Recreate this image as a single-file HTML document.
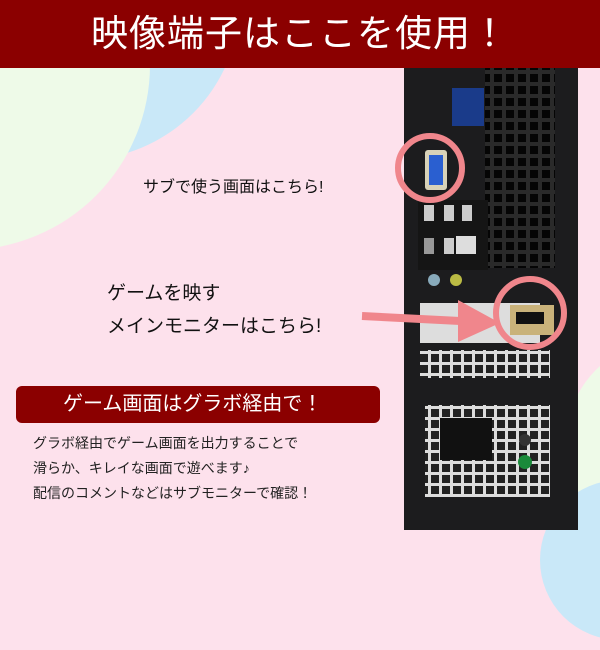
<!DOCTYPE html>
<html><head><meta charset="utf-8"><style>
*{margin:0;padding:0}
body{width:600px;height:542px;overflow:hidden;position:relative;background:#fde1ec;font-family:"Liberation Sans","Noto Sans CJK JP",sans-serif}
.a{position:absolute}
</style></head><body>
<div class="a" style="left:-80px;top:-160px;width:320px;height:320px;border-radius:50%;background:#c9e8f8"></div>
<div class="a" style="left:-220px;top:-120px;width:370px;height:370px;border-radius:50%;background:#eefae8"></div>
<div class="a" style="left:560px;top:350px;width:200px;height:300px;border-radius:40%;background:#eefae8"></div>
<div class="a" style="left:540px;top:480px;width:160px;height:160px;border-radius:50%;background:#c9e8f8"></div>
<svg class="a" style="left:0;top:0" width="600" height="542">
<defs><pattern id="g" width="12" height="12" patternUnits="userSpaceOnUse"><rect width="12" height="12" fill="#2a2a2a"/><rect x="2" y="2" width="8" height="8" fill="#050505"/></pattern>
<pattern id="w" width="11" height="11" patternUnits="userSpaceOnUse"><rect width="11" height="11" fill="#ddd"/><rect x="2" y="2" width="8" height="8" fill="#222"/></pattern></defs>
<rect x="404" y="68" width="174" height="462" fill="#1c1c1e"/>
<rect x="485" y="68" width="70" height="200" fill="url(#g)"/>
<rect x="452" y="88" width="32" height="38" fill="#1a3b8a"/>
<rect x="418" y="200" width="70" height="70" fill="#151515"/>
<rect x="424" y="205" width="10" height="16" fill="#ccc"/><rect x="444" y="205" width="10" height="16" fill="#ccc"/><rect x="462" y="205" width="10" height="16" fill="#ccc"/>
<rect x="424" y="238" width="10" height="16" fill="#999"/><rect x="444" y="238" width="10" height="16" fill="#ccc"/><rect x="456" y="236" width="20" height="18" fill="#ddd"/>
<circle cx="434" cy="280" r="6" fill="#8ab"/><circle cx="456" cy="280" r="6" fill="#bb4"/>
<rect x="420" y="303" width="120" height="40" fill="#ddd"/>
<rect x="420" y="350" width="130" height="28" fill="url(#w)"/>
<rect x="425" y="405" width="125" height="92" fill="url(#w)"/>
<rect x="440" y="418" width="52" height="42" fill="#111"/>
<circle cx="525" cy="440" r="6" fill="#333"/><circle cx="525" cy="462" r="7" fill="#1a8a3a"/>
<rect x="510" y="305" width="44" height="30" fill="#c9b27a"/><rect x="516" y="312" width="28" height="12" fill="#111"/>
<rect x="425" y="150" width="22" height="40" rx="3" fill="#d8d2b8"/><rect x="429" y="155" width="14" height="30" fill="#2a5fd0"/>
<circle cx="430" cy="168" r="32" fill="none" stroke="#f0868c" stroke-width="6"/>
<circle cx="530" cy="313" r="34" fill="none" stroke="#f0868c" stroke-width="6"/>
<line x1="362" y1="316" x2="480" y2="322" stroke="#f0868c" stroke-width="8"/>
<polygon points="458,300 500,323 458,342" fill="#f0868c"/>
</svg>
<div class="a" style="left:0;top:0;width:600px;height:68px;background:#8b0000;color:#fff;font-size:37px;line-height:68px;text-align:center;letter-spacing:1px">映像端子はここを使用！</div>
<div class="a" style="left:143px;top:173px;font-size:16px;color:#111">サブで使う画面はこちら!</div>
<div class="a" style="left:107px;top:277px;font-size:19px;color:#111;line-height:33px">ゲームを映す<br>メインモニターはこちら!</div>
<div class="a" style="left:16px;top:386px;width:364px;height:37px;border-radius:6px;background:#8b0000;color:#fff;font-size:20px;line-height:37px;padding-left:47px;box-sizing:border-box">ゲーム画面はグラボ経由で！</div>
<div class="a" style="left:33px;top:431px;font-size:14px;color:#222;line-height:25px">グラボ経由でゲーム画面を出力することで<br>滑らか、キレイな画面で遊べます♪<br>配信のコメントなどはサブモニターで確認！</div>
</body></html>
